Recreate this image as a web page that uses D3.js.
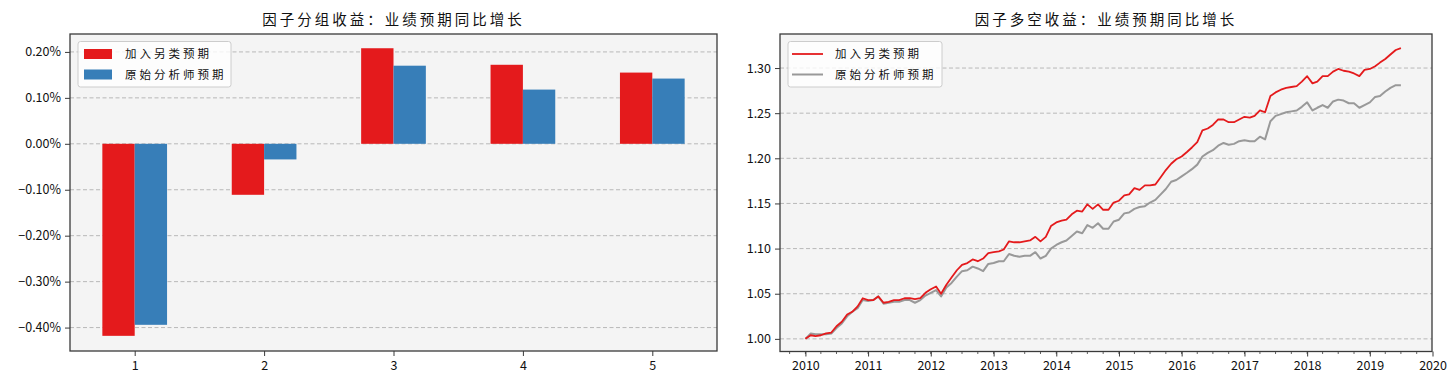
<!DOCTYPE html>
<html>
<head>
<meta charset="utf-8">
<script src="https://cdn.jsdelivr.net/npm/d3@7"></script>
<style>
  html, body { margin: 0; padding: 0; background: #fff; }
  svg { display: block; }
  text { font-family: "Noto Sans CJK SC", "DejaVu Sans", sans-serif; fill: #111; }
</style>
</head>
<body>
<svg id="chart" width="1452" height="384"></svg>
<script>
// ---------- Data ----------
const groups = ["1", "2", "3", "4", "5"];
const seriesNames = ["加入另类预期", "原始分析师预期"];
const barAlt = [-0.418, -0.111, 0.208, 0.172, 0.155];   // %
const barOrig = [-0.394, -0.034, 0.170, 0.118, 0.142];  // %
const barTicks = [-0.4, -0.3, -0.2, -0.1, 0.0, 0.1, 0.2];

const startMonth = "2010-01";
const navAlt = [1.000,1.004,1.003,1.004,1.006,1.007,1.014,1.019,1.027,1.030,1.036,1.045,
  1.043,1.043,1.047,1.040,1.041,1.043,1.043,1.045,1.045,1.044,1.045,1.051,
  1.055,1.058,1.050,1.060,1.068,1.076,1.082,1.084,1.088,1.086,1.089,1.095,
  1.096,1.097,1.099,1.108,1.107,1.107,1.108,1.109,1.113,1.108,1.113,1.125,
  1.129,1.131,1.132,1.138,1.142,1.141,1.149,1.144,1.149,1.143,1.143,1.151,
  1.153,1.159,1.160,1.167,1.165,1.170,1.170,1.171,1.179,1.187,1.194,1.199,
  1.202,1.207,1.212,1.218,1.231,1.233,1.237,1.243,1.243,1.240,1.240,1.243,
  1.246,1.245,1.247,1.253,1.251,1.269,1.273,1.276,1.278,1.279,1.280,1.285,
  1.291,1.283,1.285,1.291,1.291,1.296,1.299,1.297,1.296,1.294,1.291,1.298,
  1.299,1.302,1.306,1.310,1.315,1.320,1.322];
const navOrig = [1.000,1.006,1.005,1.005,1.005,1.006,1.012,1.017,1.025,1.030,1.034,1.043,
  1.042,1.043,1.047,1.039,1.040,1.041,1.041,1.043,1.043,1.040,1.043,1.048,
  1.051,1.054,1.047,1.057,1.062,1.069,1.075,1.076,1.080,1.078,1.075,1.083,
  1.084,1.086,1.086,1.094,1.092,1.091,1.092,1.092,1.096,1.089,1.092,1.100,
  1.104,1.107,1.109,1.114,1.119,1.117,1.126,1.123,1.128,1.122,1.122,1.130,
  1.132,1.139,1.140,1.144,1.146,1.147,1.151,1.154,1.160,1.166,1.174,1.176,
  1.180,1.184,1.188,1.193,1.202,1.206,1.209,1.214,1.217,1.215,1.216,1.219,
  1.220,1.219,1.219,1.224,1.221,1.241,1.247,1.249,1.251,1.252,1.253,1.257,
  1.262,1.253,1.256,1.259,1.256,1.263,1.265,1.264,1.261,1.261,1.256,1.259,
  1.262,1.268,1.269,1.274,1.278,1.281,1.281];
const navTicks = [1.00, 1.05, 1.10, 1.15, 1.20, 1.25, 1.30];
const yearTicks = ["2010","2011","2012","2013","2014","2015","2016","2017","2018","2019","2020"];

const titleLeft = "因子分组收益：业绩预期同比增长";
const titleRight = "因子多空收益：业绩预期同比增长";

// ---------- Style ----------
const RED = "#e41a1c", BLUE = "#377eb8", GRAY = "#999999";
const BG = "#f4f4f4", SPINE = "#3a3a3a", GRID = "#b8b8b8";

const svg = d3.select("#chart");

function frame(g, x0, x1, y0, y1) {
  g.append("rect").attr("x", x0).attr("y", y0).attr("width", x1 - x0).attr("height", y1 - y0)
    .attr("fill", BG);
}
function spines(g, x0, x1, y0, y1) {
  g.append("rect").attr("x", x0).attr("y", y0).attr("width", x1 - x0).attr("height", y1 - y0)
    .attr("fill", "none").attr("stroke", SPINE).attr("stroke-width", 1.3);
}
function styleAxis(sel) {
  sel.select(".domain").remove();
  sel.selectAll(".tick line").attr("stroke", SPINE).attr("stroke-width", 1);
  sel.selectAll(".tick text").style("font-size", "12.5px").attr("fill", "#111")
     .style("font-family", "'Noto Sans CJK SC', sans-serif");
}
function legend(g, x, y, w, h, items) {
  g.append("rect").attr("x", x).attr("y", y).attr("width", w).attr("height", h)
    .attr("rx", 2.5).attr("fill", "#ffffff").attr("fill-opacity", 0.8)
    .attr("stroke", "#cccccc").attr("stroke-width", 1);
  items.forEach((it, i) => {
    const cy = y + 12.5 + i * 20.5;
    if (it.type === "patch") {
      g.append("rect").attr("x", x + 6).attr("y", cy - 5).attr("width", 28).attr("height", 10).attr("fill", it.color);
    } else {
      g.append("line").attr("x1", x + 4).attr("x2", x + 35).attr("y1", cy).attr("y2", cy)
        .attr("stroke", it.color).attr("stroke-width", it.width);
    }
    g.append("text").attr("x", x + it.tx).attr("y", cy).attr("dy", "0.36em")
      .style("font-size", "11.5px").style("letter-spacing", "3px").text(it.label);
  });
}

// ---------- Left: bar chart ----------
{
  const L = 70, R = 717, T = 34, B = 351;
  const g = svg.append("g");
  frame(g, L, R, T, B);
  const x = d3.scaleLinear().domain([0.5, 5.5]).range([L, R]);
  const y = d3.scaleLinear().domain([-0.451, 0.239]).range([B, T]);

  g.append("g").selectAll("line").data(barTicks).join("line")
    .attr("x1", L).attr("x2", R).attr("y1", d => y(d)).attr("y2", d => y(d))
    .attr("stroke", GRID).attr("stroke-width", 1).attr("stroke-dasharray", "4,2.5");

  const bw = x(0.75) - x(0.5);
  const data = groups.map((gname, i) => ({ c: +gname, a: barAlt[i], o: barOrig[i] }));
  g.append("g").selectAll("rect").data(data).join("rect")
    .attr("x", d => x(d.c - 0.25)).attr("width", bw)
    .attr("y", d => y(Math.max(0, d.a))).attr("height", d => Math.abs(y(d.a) - y(0)))
    .attr("fill", RED);
  g.append("g").selectAll("rect").data(data).join("rect")
    .attr("x", d => x(d.c)).attr("width", bw)
    .attr("y", d => y(Math.max(0, d.o))).attr("height", d => Math.abs(y(d.o) - y(0)))
    .attr("fill", BLUE);

  const fmt = d => (d < 0 ? "\u2212" : "") + Math.abs(d).toFixed(2) + "%";
  const ya = g.append("g").attr("transform", `translate(${L},0)`)
    .call(d3.axisLeft(y).tickValues(barTicks).tickFormat(fmt).tickSize(5).tickPadding(4));
  styleAxis(ya);
  const xa = g.append("g").attr("transform", `translate(0,${B})`)
    .call(d3.axisBottom(x).tickValues(groups.map(Number)).tickFormat((d, i) => groups[i]).tickSize(5).tickPadding(5));
  styleAxis(xa);

  spines(g, L, R, T, B);
  legend(g, 78, 41.5, 153, 45.5, [
    { type: "patch", color: RED, label: seriesNames[0], tx: 47 },
    { type: "patch", color: BLUE, label: seriesNames[1], tx: 47 }
  ]);
  svg.append("text").attr("x", (L + R) / 2).attr("y", 20).attr("dy", "0.36em")
    .attr("text-anchor", "middle").style("font-size", "14.5px").style("letter-spacing", "3px")
    .text(titleLeft);
}

// ---------- Right: line chart ----------
{
  const L = 780, R = 1432, T = 34, B = 351.5;
  const g = svg.append("g");
  frame(g, L, R, T, B);
  const parse = d3.timeParse("%Y-%m");
  const t0 = parse(startMonth);
  const dates = navAlt.map((_, i) => d3.timeMonth.offset(t0, i));
  const x = d3.scaleTime().domain([new Date(2009, 7, 6), new Date(2020, 0, 1)]).range([L, R + 0.5]);
  const y = d3.scaleLinear().domain([0.986, 1.3377]).range([B, T]);

  g.append("g").selectAll("line").data(navTicks).join("line")
    .attr("x1", L).attr("x2", R).attr("y1", d => y(d)).attr("y2", d => y(d))
    .attr("stroke", GRID).attr("stroke-width", 1).attr("stroke-dasharray", "4,2.5");

  const line = d3.line().x((d, i) => x(dates[i])).y(d => y(d));
  g.append("path").datum(navOrig).attr("d", line).attr("fill", "none")
    .attr("stroke", GRAY).attr("stroke-width", 2).attr("stroke-linejoin", "round");
  g.append("path").datum(navAlt).attr("d", line).attr("fill", "none")
    .attr("stroke", RED).attr("stroke-width", 1.8).attr("stroke-linejoin", "round");

  const ya = g.append("g").attr("transform", `translate(${L},0)`)
    .call(d3.axisLeft(y).tickValues(navTicks).tickFormat(d3.format(".2f")).tickSize(5).tickPadding(4));
  styleAxis(ya);

  const yearDates = yearTicks.map(s => d3.timeParse("%Y")(s));
  const minor = d3.timeMonth.every(3).range(x.domain()[0], x.domain()[1]);
  g.append("g").selectAll("line").data(minor).join("line")
    .attr("x1", d => x(d)).attr("x2", d => x(d)).attr("y1", B).attr("y2", B + 2.5)
    .attr("stroke", SPINE).attr("stroke-width", 0.8);
  const xa = g.append("g").attr("transform", `translate(0,${B})`)
    .call(d3.axisBottom(x).tickValues(yearDates).tickFormat((d, i) => yearTicks[i]).tickSize(5).tickPadding(5));
  styleAxis(xa);

  spines(g, L, R, T, B);
  legend(g, 788, 41.5, 154, 45.5, [
    { type: "line", color: RED, width: 1.8, label: seriesNames[0], tx: 47 },
    { type: "line", color: GRAY, width: 2, label: seriesNames[1], tx: 47 }
  ]);
  svg.append("text").attr("x", (L + R) / 2).attr("y", 20).attr("dy", "0.36em")
    .attr("text-anchor", "middle").style("font-size", "14.5px").style("letter-spacing", "3px")
    .text(titleRight);
}
</script>
</body>
</html>
